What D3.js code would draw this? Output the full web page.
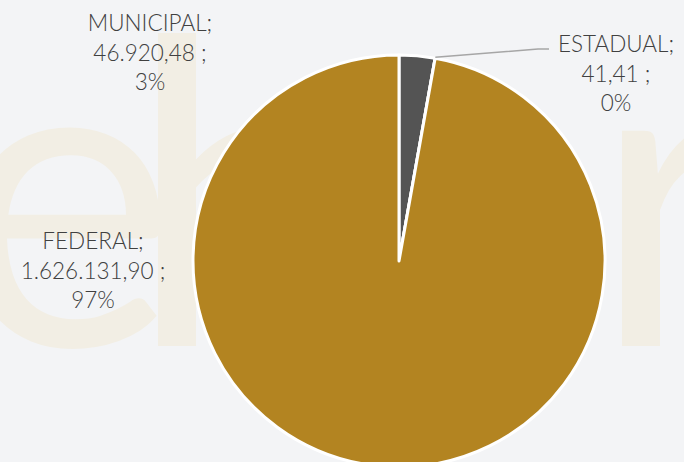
<!DOCTYPE html>
<meta charset="utf-8">
<script src="https://d3js.org/d3.v7.min.js"></script>
<style>
  body { margin: 0; background: #f3f4f6; }
  .lbl { font-family: Lato, "Noto Sans", sans-serif; font-weight: 300; }
  .wm { font-family: Lato, sans-serif; font-weight: 400; font-size: 425px; fill: #f2eee4; }
</style>
<div id="my_dataviz"></div>
<script>

// data
var categories = ["MUNICIPAL", "ESTADUAL", "FEDERAL"];
var values = [46920.48, 41.41, 1626131.90];
var colors = ["#545454", "#8a8a8a", "#b38421"];

var width = 684, height = 462;
var cx = 399, cy = 261, radius = 206;

var br = d3.formatLocale({decimal: ",", thousands: ".", grouping: [3], currency: ["R$", ""]});
var fmt = br.format(",.2f");

var svg = d3.select("#my_dataviz")
  .append("svg")
    .attr("width", width)
    .attr("height", height)
    .style("display", "block");

svg.append("rect").attr("width", width).attr("height", height).attr("fill", "#f3f4f6");

// watermark letters
var wm = svg.append("g");
wm.append("text").attr("class", "wm").attr("x", -48).attr("y", 346).text("e");
wm.append("text").attr("class", "wm").attr("x", 128).attr("y", 346).text("h");
wm.append("text").attr("class", "wm").attr("x", 592).attr("y", 346).text("r");

var total = d3.sum(values);
var data = categories.map(function(c, i) { return {name: c, value: values[i], color: colors[i]}; });

var pie = d3.pie().sort(null).value(function(d) { return d.value; });
var arcs = pie(data);
var arc = d3.arc().innerRadius(0).outerRadius(radius);

var g = svg.append("g").attr("transform", "translate(" + cx + "," + cy + ")");

g.selectAll("path")
  .data(arcs)
  .enter().append("path")
    .attr("d", arc)
    .attr("fill", function(d) { return d.data.color; })
    .attr("stroke", "#ffffff")
    .attr("stroke-width", 3)
    .attr("stroke-linejoin", "round");

// label positions (center x, first baseline)
var labelPos = [[150, 31], [616, 52], [93, 249]];

arcs.forEach(function(d, i) {
  var lines = [d.data.name + ";", fmt(d.data.value) + " ;", Math.round(d.data.value / total * 100) + "%"];
  var t = svg.append("text")
    .attr("class", "lbl")
    .attr("text-anchor", "middle")
    .attr("fill", "#404040")
    .style("font-size", "22.5px");
  lines.forEach(function(l, k) {
    t.append("tspan").attr("x", labelPos[i][0]).attr("y", labelPos[i][1] + k * 29.5).text(l);
  });
});

// leader line for ESTADUAL
var e = arcs[1];
var a = (e.startAngle + e.endAngle) / 2;
var p0 = [cx + Math.sin(a) * (radius + 1), cy - Math.cos(a) * (radius + 1)];
svg.append("polyline")
  .attr("points", [p0, [538, 49], [549, 49]].map(function(p) { return p.join(","); }).join(" "))
  .attr("fill", "none")
  .attr("stroke", "#a6a6a6")
  .attr("stroke-width", 1.5);

</script>
